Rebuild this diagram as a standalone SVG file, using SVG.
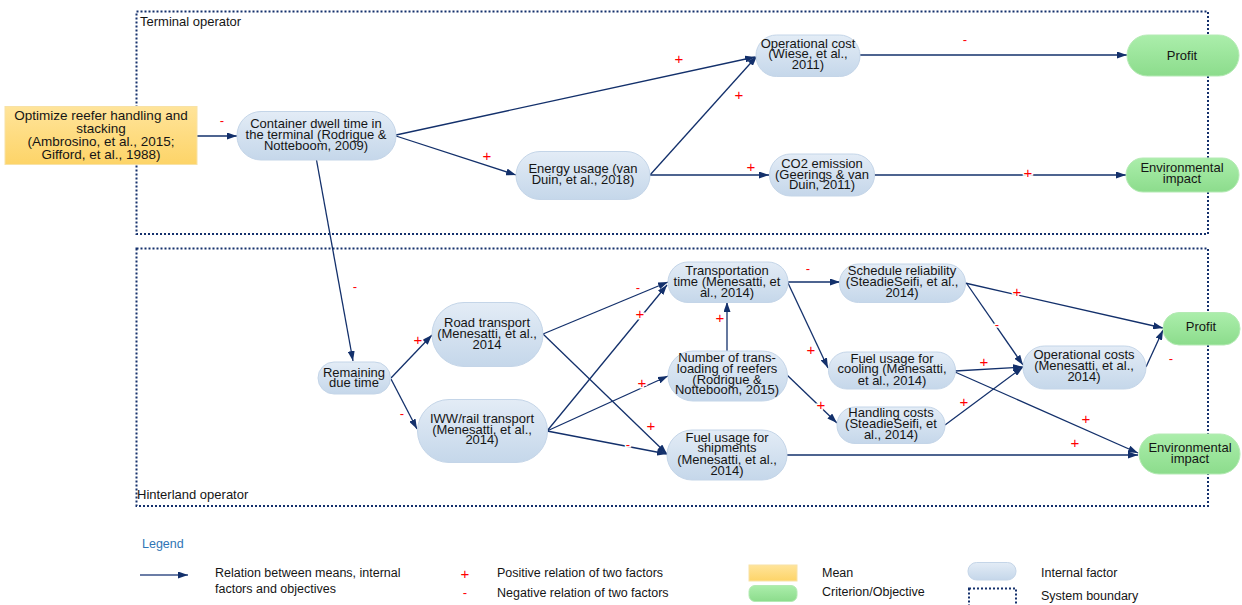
<svg xmlns="http://www.w3.org/2000/svg" width="1242" height="605" viewBox="0 0 1242 605">
<defs>
<linearGradient id="gBlue" x1="0" y1="0" x2="0" y2="1"><stop offset="0" stop-color="#e3ecf6"/><stop offset="1" stop-color="#c5d7ea"/></linearGradient>
<linearGradient id="gGreen" x1="0" y1="0" x2="0" y2="1"><stop offset="0" stop-color="#abeeab"/><stop offset="1" stop-color="#8cdc8c"/></linearGradient>
<linearGradient id="gYellow" x1="0" y1="0" x2="0" y2="1"><stop offset="0" stop-color="#ffe49a"/><stop offset="1" stop-color="#fdd468"/></linearGradient>
<marker id="arr" viewBox="0 0 10 7" refX="10" refY="3.5" markerWidth="10" markerHeight="7" markerUnits="userSpaceOnUse" orient="auto"><path d="M0,0 L10,3.5 L0,7 z" fill="#13306b"/></marker>
</defs>
<style>
text{font-family:"Liberation Sans",Arial,sans-serif;fill:#151515}
.n{font-size:13px;text-anchor:middle}
.pill{fill:url(#gBlue);stroke:#c4d5e8;stroke-width:1}
.goal{fill:url(#gGreen);stroke:#b4eab4;stroke-width:1}
.mean{fill:url(#gYellow);stroke:#f8e2a6;stroke-width:1}
.bnd{fill:none;stroke:#14306c;stroke-width:2;stroke-dasharray:2 2}
.c line{stroke:#13306b;stroke-width:1.3;fill:none;marker-end:url(#arr)}
.l text{text-anchor:middle;fill:#ff0000;stroke:#ffffff;stroke-width:3;paint-order:stroke}
.p{font-size:15px}
.m{font-size:13px}
.lg{font-size:12.5px}
.bl{font-size:13px}
</style>
<rect width="1242" height="605" fill="#ffffff"/>

<g id="boundaries">
<rect class="bnd" x="136.5" y="11.5" width="1071.5" height="222.5"/>
<text class="bl" x="140" y="26">Terminal operator</text>
<rect class="bnd" x="136.5" y="248.5" width="1071.5" height="257.5"/>
<text class="bl" x="137" y="499">Hinterland operator</text>
</g>

<g class="c" id="connectors">
<line x1="197" y1="136" x2="237" y2="136"/>
<line x1="396" y1="135" x2="755" y2="57"/>
<line x1="396" y1="136" x2="516" y2="175"/>
<line x1="650" y1="175" x2="757" y2="56"/>
<line x1="650" y1="175" x2="769" y2="175"/>
<line x1="860" y1="55" x2="1127" y2="55"/>
<line x1="874" y1="175" x2="1126" y2="175"/>
<line x1="316.5" y1="160" x2="353" y2="361"/>
<line x1="391" y1="378" x2="432" y2="335"/>
<line x1="391" y1="379" x2="417" y2="429"/>
<line x1="543" y1="334" x2="668" y2="282"/>
<line x1="543" y1="334" x2="667" y2="454"/>
<line x1="547" y1="431" x2="667" y2="285"/>
<line x1="547" y1="431" x2="668" y2="376"/>
<line x1="547" y1="431" x2="667" y2="454"/>
<line x1="727" y1="351" x2="727" y2="302"/>
<line x1="788" y1="282" x2="840" y2="282"/>
<line x1="788" y1="283" x2="828" y2="368"/>
<line x1="787" y1="375" x2="837" y2="423"/>
<line x1="787" y1="455" x2="1138" y2="455"/>
<line x1="965" y1="283" x2="1163" y2="328"/>
<line x1="967" y1="284" x2="1023" y2="365"/>
<line x1="955" y1="371" x2="1023" y2="367"/>
<line x1="955" y1="372" x2="1138" y2="453"/>
<line x1="945" y1="425" x2="1023" y2="367"/>
<line x1="1146" y1="367" x2="1163" y2="330"/>
</g>

<g class="l" id="relation-labels">
<text class="m" x="222" y="125">-</text>
<text class="p" x="679" y="64">+</text>
<text class="p" x="487" y="161">+</text>
<text class="p" x="739" y="100">+</text>
<text class="p" x="751" y="172">+</text>
<text class="m" x="965" y="44">-</text>
<text class="p" x="1028" y="178">+</text>
<text class="m" x="355" y="291">-</text>
<text class="p" x="418" y="345">+</text>
<text class="m" x="402" y="418">-</text>
<text class="m" x="638" y="292">-</text>
<text class="p" x="651" y="431">+</text>
<text class="p" x="640" y="319">+</text>
<text class="p" x="642" y="388">+</text>
<text class="m" x="628" y="449">-</text>
<text class="p" x="720" y="323">+</text>
<text class="m" x="808" y="273">-</text>
<text class="p" x="811" y="355">+</text>
<text class="p" x="821" y="410">+</text>
<text class="p" x="1075" y="448">+</text>
<text class="p" x="1017" y="297">+</text>
<text class="m" x="997" y="329">-</text>
<text class="p" x="984" y="367">+</text>
<text class="p" x="1086" y="424">+</text>
<text class="p" x="964" y="407">+</text>
<text class="m" x="1171" y="363">-</text>
</g>

<g id="optimize">
<rect class="mean" x="5" y="106.5" width="192" height="58"/>
<text class="n" x="101" y="120" style="font-size:13.5px">Optimize reefer handling and</text>
<text class="n" x="101" y="133" style="font-size:13.5px">stacking</text>
<text class="n" x="101" y="146" style="font-size:13.5px">(Ambrosino, et al., 2015;</text>
<text class="n" x="101" y="159" style="font-size:13.5px">Gifford, et al., 1988)</text>
</g>
<g id="dwell">
<rect class="pill" x="237" y="111.5" width="159" height="48.5" rx="24"/>
<text class="n" x="316" y="128">Container dwell time in</text>
<text class="n" x="316" y="139">the terminal  (Rodrigue &amp;</text>
<text class="n" x="316" y="150">Notteboom, 2009)</text>
</g>
<g id="energy">
<rect class="pill" x="516" y="151.5" width="134" height="48" rx="24"/>
<text class="n" x="583" y="173">Energy usage (van</text>
<text class="n" x="583" y="184">Duin, et al., 2018)</text>
</g>
<g id="opcost">
<rect class="pill" x="756" y="35" width="104" height="41.5" rx="20.5"/>
<text class="n" x="808" y="48">Operational cost</text>
<text class="n" x="808" y="58">(Wiese, et al.,</text>
<text class="n" x="808" y="69">2011)</text>
</g>
<g id="co2">
<rect class="pill" x="769.5" y="154" width="105" height="42" rx="21"/>
<text class="n" x="822" y="168">CO2 emission</text>
<text class="n" x="822" y="179">(Geerings &amp; van</text>
<text class="n" x="822" y="189">Duin, 2011)</text>
</g>
<g id="profit-top">
<rect class="goal" x="1127" y="35" width="112" height="41" rx="20.5"/>
<text class="n" x="1182" y="60">Profit</text>
</g>
<g id="env-top">
<rect class="goal" x="1126" y="158" width="113" height="34" rx="17"/>
<text class="n" x="1182" y="172">Environmental</text>
<text class="n" x="1182" y="183">impact</text>
</g>

<g id="remaining">
<rect class="pill" x="318" y="362" width="72.5" height="32" rx="16"/>
<text class="n" x="354" y="377">Remaining</text>
<text class="n" x="354" y="387">due time</text>
</g>
<g id="road">
<rect class="pill" x="432" y="302.5" width="111" height="64" rx="32"/>
<text class="n" x="487" y="327">Road transport</text>
<text class="n" x="487" y="338">(Menesatti, et al.,</text>
<text class="n" x="487" y="349">2014</text>
</g>
<g id="iww">
<rect class="pill" x="417.5" y="399.5" width="130" height="63" rx="31.5"/>
<text class="n" x="482" y="423">IWW/rail transport</text>
<text class="n" x="482" y="434">(Menesatti, et al.,</text>
<text class="n" x="482" y="444">2014)</text>
</g>
<g id="transport-time">
<rect class="pill" x="668" y="262" width="120" height="40.5" rx="20"/>
<text class="n" x="727" y="275">Transportation</text>
<text class="n" x="727" y="286">time (Menesatti, et</text>
<text class="n" x="727" y="297">al., 2014)</text>
</g>
<g id="transloading">
<rect class="pill" x="668" y="351" width="119.5" height="50" rx="25"/>
<text class="n" x="727" y="362">Number of trans-</text>
<text class="n" x="727" y="373">loading of reefers</text>
<text class="n" x="727" y="384">(Rodrigue &amp;</text>
<text class="n" x="727" y="394">Notteboom, 2015)</text>
</g>
<g id="fuel-shipments">
<rect class="pill" x="667" y="430" width="120" height="50" rx="25"/>
<text class="n" x="727" y="442">Fuel usage for</text>
<text class="n" x="727" y="452">shipments</text>
<text class="n" x="727" y="464">(Menesatti, et al.,</text>
<text class="n" x="727" y="475">2014)</text>
</g>
<g id="schedule">
<rect class="pill" x="839.5" y="264" width="126" height="38.5" rx="19"/>
<text class="n" x="902" y="275">Schedule reliability</text>
<text class="n" x="902" y="286">(SteadieSeifi, et al.,</text>
<text class="n" x="902" y="297">2014)</text>
</g>
<g id="fuel-cooling">
<rect class="pill" x="828.5" y="352" width="127" height="37" rx="18.5"/>
<text class="n" x="892" y="363">Fuel usage for</text>
<text class="n" x="892" y="373">cooling (Menesatti,</text>
<text class="n" x="892" y="385">et al., 2014)</text>
</g>
<g id="handling">
<rect class="pill" x="837" y="407" width="108" height="36.5" rx="18"/>
<text class="n" x="891" y="417">Handling costs</text>
<text class="n" x="891" y="428">(SteadieSeifi, et</text>
<text class="n" x="891" y="439">al., 2014)</text>
</g>
<g id="opcosts">
<rect class="pill" x="1023" y="346" width="123" height="43" rx="21.5"/>
<text class="n" x="1084" y="359">Operational costs</text>
<text class="n" x="1084" y="370">(Menesatti, et al.,</text>
<text class="n" x="1084" y="381">2014)</text>
</g>
<g id="profit-bottom">
<rect class="goal" x="1163" y="312.5" width="77" height="32.5" rx="16"/>
<text class="n" x="1201" y="331">Profit</text>
</g>
<g id="env-bottom">
<rect class="goal" x="1139" y="434" width="101" height="40" rx="20"/>
<text class="n" x="1190" y="452">Environmental</text>
<text class="n" x="1190" y="463">impact</text>
</g>

<g id="legend">
<text class="lg" x="142" y="548" style="fill:#2f75b5">Legend</text>
<line x1="140" y1="575" x2="188" y2="575" stroke="#3a5288" stroke-width="1.5" marker-end="url(#arr)"/>
<text class="lg" x="215" y="577">Relation between means, internal</text>
<text class="lg" x="215" y="593">factors and objectives</text>
<text x="465" y="579" style="font-size:15px;fill:#ff0000;text-anchor:middle">+</text>
<text class="lg" x="497" y="577">Positive relation of two factors</text>
<text x="465" y="597" style="font-size:13px;fill:#ff0000;text-anchor:middle">-</text>
<text class="lg" x="497" y="597">Negative relation of two factors</text>
<rect class="mean" x="749" y="565" width="48" height="16"/>
<text class="lg" x="822" y="577">Mean</text>
<rect class="goal" x="749" y="585.5" width="48" height="16" rx="6"/>
<text class="lg" x="822" y="596">Criterion/Objective</text>
<rect class="pill" x="968" y="562.5" width="48" height="17.5" rx="8.5"/>
<text class="lg" x="1041" y="577">Internal factor</text>
<rect class="bnd" x="969" y="588.5" width="47" height="24"/>
<text class="lg" x="1041" y="600">System boundary</text>
</g>
</svg>
